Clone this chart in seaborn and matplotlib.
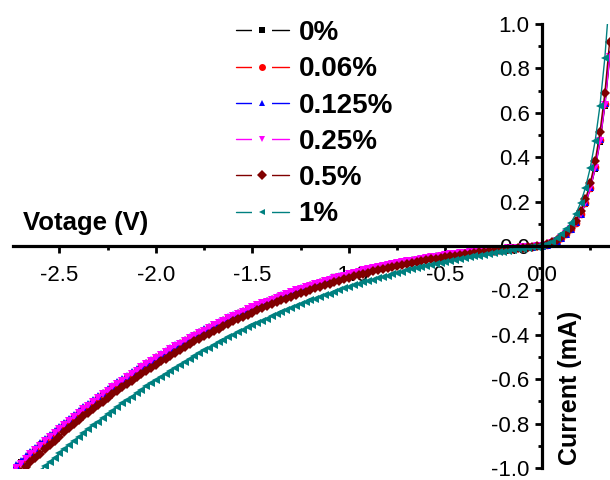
import pandas as pd
import seaborn as sns
import matplotlib.pyplot as plt
from matplotlib.lines import Line2D
from matplotlib.legend_handler import HandlerTuple
from matplotlib.ticker import MultipleLocator, FormatStrFormatter

# Voltage sweep (V)
voltage = [
    -2.75, -2.725, -2.70, -2.675, -2.65, -2.625, -2.60, -2.575, -2.55, -2.525,
    -2.50, -2.475, -2.45, -2.425, -2.40, -2.375, -2.35, -2.325, -2.30, -2.275,
    -2.25, -2.225, -2.20, -2.175, -2.15, -2.125, -2.10, -2.075, -2.05, -2.025,
    -2.00, -1.975, -1.95, -1.925, -1.90, -1.875, -1.85, -1.825, -1.80, -1.775,
    -1.75, -1.725, -1.70, -1.675, -1.65, -1.625, -1.60, -1.575, -1.55, -1.525,
    -1.50, -1.475, -1.45, -1.425, -1.40, -1.375, -1.35, -1.325, -1.30, -1.275,
    -1.25, -1.225, -1.20, -1.175, -1.15, -1.125, -1.10, -1.075, -1.05, -1.025,
    -1.00, -0.975, -0.95, -0.925, -0.90, -0.875, -0.85, -0.825, -0.80, -0.775,
    -0.75, -0.725, -0.70, -0.675, -0.65, -0.625, -0.60, -0.575, -0.55, -0.525,
    -0.50, -0.475, -0.45, -0.425, -0.40, -0.375, -0.35, -0.325, -0.30, -0.275,
    -0.25, -0.225, -0.20, -0.175, -0.15, -0.125, -0.10, -0.075, -0.05, -0.025,
    0.00, 0.025, 0.05, 0.075, 0.10, 0.125, 0.15, 0.175, 0.20, 0.225,
    0.25, 0.275, 0.30, 0.325, 0.35,
]

# Current (mA) for each concentration
cur_0 = [
    -1.015, -0.995, -0.975, -0.954, -0.935, -0.914, -0.895, -0.876, -0.857, -0.838,
    -0.820, -0.802, -0.784, -0.767, -0.748, -0.731, -0.715, -0.698, -0.682, -0.665,
    -0.650, -0.634, -0.619, -0.604, -0.589, -0.573, -0.558, -0.544, -0.530, -0.517,
    -0.503, -0.490, -0.477, -0.464, -0.451, -0.439, -0.426, -0.414, -0.402, -0.390,
    -0.379, -0.368, -0.357, -0.346, -0.336, -0.325, -0.315, -0.305, -0.295, -0.286,
    -0.277, -0.268, -0.259, -0.249, -0.240, -0.232, -0.224, -0.216, -0.208, -0.200,
    -0.193, -0.186, -0.178, -0.172, -0.165, -0.158, -0.152, -0.146, -0.139, -0.134,
    -0.128, -0.121, -0.116, -0.110, -0.105, -0.100, -0.095, -0.091, -0.086, -0.082,
    -0.078, -0.073, -0.069, -0.066, -0.062, -0.058, -0.055, -0.051, -0.048, -0.045,
    -0.041, -0.038, -0.035, -0.033, -0.030, -0.028, -0.025, -0.023, -0.021, -0.019,
    -0.017, -0.015, -0.013, -0.011, -0.009, -0.008, -0.006, -0.005, -0.003, -0.001,
    0.000, 0.006, 0.013, 0.023, 0.036, 0.052, 0.074, 0.102, 0.140, 0.191,
    0.258, 0.348, 0.468, 0.629, 0.845,
]
cur_006 = [
    -1.014, -0.994, -0.974, -0.953, -0.934, -0.913, -0.894, -0.875, -0.856, -0.837,
    -0.819, -0.801, -0.783, -0.766, -0.747, -0.730, -0.714, -0.697, -0.681, -0.664,
    -0.649, -0.633, -0.618, -0.603, -0.588, -0.572, -0.557, -0.543, -0.529, -0.516,
    -0.502, -0.489, -0.476, -0.463, -0.450, -0.438, -0.425, -0.413, -0.401, -0.389,
    -0.378, -0.367, -0.356, -0.345, -0.335, -0.324, -0.314, -0.304, -0.294, -0.285,
    -0.276, -0.267, -0.258, -0.248, -0.239, -0.231, -0.223, -0.215, -0.207, -0.199,
    -0.192, -0.185, -0.177, -0.171, -0.164, -0.157, -0.151, -0.145, -0.138, -0.133,
    -0.127, -0.121, -0.116, -0.110, -0.105, -0.100, -0.095, -0.091, -0.086, -0.081,
    -0.077, -0.072, -0.068, -0.065, -0.061, -0.057, -0.054, -0.050, -0.047, -0.044,
    -0.041, -0.038, -0.035, -0.033, -0.030, -0.028, -0.025, -0.023, -0.021, -0.019,
    -0.017, -0.015, -0.013, -0.011, -0.009, -0.008, -0.006, -0.005, -0.003, -0.001,
    0.000, 0.006, 0.014, 0.024, 0.036, 0.053, 0.076, 0.105, 0.143, 0.195,
    0.263, 0.355, 0.477, 0.641, 0.860,
]
cur_0125 = [
    -1.008, -0.988, -0.968, -0.947, -0.928, -0.908, -0.889, -0.870, -0.851, -0.832,
    -0.814, -0.796, -0.778, -0.761, -0.743, -0.726, -0.710, -0.693, -0.677, -0.660,
    -0.645, -0.629, -0.614, -0.599, -0.584, -0.569, -0.554, -0.540, -0.526, -0.513,
    -0.499, -0.486, -0.473, -0.460, -0.447, -0.435, -0.422, -0.411, -0.399, -0.387,
    -0.376, -0.365, -0.354, -0.343, -0.333, -0.322, -0.312, -0.302, -0.292, -0.283,
    -0.274, -0.265, -0.256, -0.247, -0.238, -0.230, -0.222, -0.214, -0.206, -0.198,
    -0.191, -0.184, -0.176, -0.170, -0.163, -0.156, -0.150, -0.144, -0.137, -0.132,
    -0.126, -0.120, -0.115, -0.109, -0.104, -0.099, -0.094, -0.090, -0.085, -0.081,
    -0.077, -0.072, -0.068, -0.065, -0.061, -0.057, -0.054, -0.050, -0.047, -0.044,
    -0.041, -0.038, -0.035, -0.033, -0.030, -0.028, -0.025, -0.023, -0.021, -0.019,
    -0.017, -0.015, -0.013, -0.011, -0.009, -0.008, -0.006, -0.005, -0.003, -0.001,
    0.000, 0.006, 0.014, 0.024, 0.037, 0.054, 0.077, 0.106, 0.145, 0.197,
    0.266, 0.358, 0.481, 0.646, 0.866,
]
cur_025 = [
    -1.020, -1.000, -0.980, -0.958, -0.939, -0.919, -0.900, -0.880, -0.861, -0.842,
    -0.824, -0.806, -0.787, -0.770, -0.752, -0.735, -0.719, -0.701, -0.685, -0.668,
    -0.653, -0.637, -0.621, -0.606, -0.591, -0.576, -0.561, -0.546, -0.532, -0.519,
    -0.505, -0.492, -0.479, -0.466, -0.452, -0.440, -0.427, -0.416, -0.404, -0.392,
    -0.381, -0.369, -0.358, -0.347, -0.337, -0.326, -0.316, -0.306, -0.296, -0.286,
    -0.277, -0.268, -0.259, -0.250, -0.241, -0.233, -0.225, -0.217, -0.208, -0.200,
    -0.193, -0.186, -0.178, -0.172, -0.165, -0.158, -0.152, -0.146, -0.139, -0.134,
    -0.128, -0.121, -0.116, -0.110, -0.105, -0.100, -0.095, -0.091, -0.086, -0.082,
    -0.078, -0.073, -0.069, -0.066, -0.062, -0.058, -0.055, -0.051, -0.048, -0.045,
    -0.041, -0.038, -0.035, -0.033, -0.030, -0.028, -0.025, -0.023, -0.021, -0.019,
    -0.017, -0.015, -0.013, -0.011, -0.009, -0.008, -0.006, -0.005, -0.003, -0.001,
    0.000, 0.006, 0.014, 0.024, 0.037, 0.053, 0.075, 0.104, 0.142, 0.193,
    0.261, 0.352, 0.473, 0.636, 0.853,
]
cur_05 = [
    -1.058, -1.037, -1.016, -0.995, -0.975, -0.955, -0.935, -0.916, -0.896, -0.877,
    -0.859, -0.840, -0.822, -0.804, -0.786, -0.768, -0.751, -0.734, -0.717, -0.701,
    -0.684, -0.668, -0.652, -0.637, -0.622, -0.606, -0.591, -0.577, -0.562, -0.548,
    -0.534, -0.520, -0.507, -0.494, -0.480, -0.468, -0.455, -0.442, -0.430, -0.418,
    -0.406, -0.395, -0.383, -0.372, -0.361, -0.351, -0.340, -0.330, -0.319, -0.309,
    -0.300, -0.290, -0.281, -0.272, -0.263, -0.254, -0.245, -0.237, -0.228, -0.220,
    -0.212, -0.205, -0.197, -0.190, -0.183, -0.176, -0.169, -0.162, -0.156, -0.149,
    -0.143, -0.137, -0.131, -0.125, -0.120, -0.114, -0.109, -0.104, -0.099, -0.094,
    -0.089, -0.085, -0.080, -0.076, -0.072, -0.068, -0.064, -0.060, -0.057, -0.053,
    -0.050, -0.046, -0.043, -0.040, -0.037, -0.034, -0.031, -0.028, -0.026, -0.023,
    -0.021, -0.019, -0.016, -0.014, -0.012, -0.010, -0.008, -0.006, -0.004, -0.002,
    0.000, 0.007, 0.016, 0.027, 0.041, 0.059, 0.083, 0.114, 0.156, 0.211,
    0.284, 0.382, 0.513, 0.687, 0.921,
]
cur_1 = [
    -1.135, -1.114, -1.093, -1.072, -1.052, -1.032, -1.012, -0.992, -0.973, -0.953,
    -0.934, -0.916, -0.897, -0.879, -0.861, -0.843, -0.826, -0.808, -0.791, -0.774,
    -0.758, -0.741, -0.725, -0.709, -0.693, -0.678, -0.662, -0.647, -0.632, -0.618,
    -0.603, -0.589, -0.575, -0.561, -0.548, -0.534, -0.521, -0.508, -0.495, -0.483,
    -0.470, -0.458, -0.446, -0.434, -0.423, -0.411, -0.400, -0.389, -0.378, -0.367,
    -0.357, -0.347, -0.337, -0.327, -0.317, -0.307, -0.298, -0.289, -0.280, -0.271,
    -0.262, -0.254, -0.245, -0.237, -0.229, -0.221, -0.214, -0.206, -0.199, -0.191,
    -0.184, -0.177, -0.171, -0.164, -0.157, -0.151, -0.145, -0.139, -0.133, -0.127,
    -0.121, -0.116, -0.110, -0.105, -0.100, -0.095, -0.090, -0.085, -0.080, -0.076,
    -0.071, -0.067, -0.063, -0.059, -0.055, -0.051, -0.047, -0.043, -0.039, -0.036,
    -0.032, -0.029, -0.025, -0.022, -0.019, -0.015, -0.012, -0.009, -0.006, -0.003,
    0.000, 0.009, 0.020, 0.035, 0.052, 0.075, 0.105, 0.144, 0.195, 0.263,
    0.353, 0.473, 0.632, 0.845, 1.130,
]

labels = ["0%", "0.06%", "0.125%", "0.25%", "0.5%", "1%"]
colors = ["black", "red", "blue", "magenta", "#800000", "#008080"]
markers = ["s", "o", "^", "v", "D", "<"]
currents = [cur_0, cur_006, cur_0125, cur_025, cur_05, cur_1]

frames = []
for lab, cur in zip(labels, currents):
    frames.append(pd.DataFrame({"Voltage": voltage, "Current": cur, "Conc": lab}))
df = pd.concat(frames, ignore_index=True)

sns.set_style("ticks", {"axes.edgecolor": "black", "xtick.color": "black",
                        "ytick.color": "black", "text.color": "black",
                        "axes.labelcolor": "black"})
plt.rcParams["font.family"] = ["Liberation Sans", "DejaVu Sans"]
plt.rcParams["axes.unicode_minus"] = False

fig = plt.figure(figsize=(6.1, 4.8), dpi=100)
ax = fig.add_axes([13 / 610, 12 / 480, 597 / 610, 444 / 480])

sns.lineplot(data=df, x="Voltage", y="Current", hue="Conc", style="Conc",
             hue_order=labels, style_order=labels,
             palette=dict(zip(labels, colors)), markers=dict(zip(labels, markers)),
             dashes=False, estimator=None, sort=False, legend=False,
             linewidth=1, markersize=5.5, markeredgewidth=0, ax=ax)
ax.lines[0].set_markersize(4)  # black squares sit underneath the others

ax.set_xlim(-2.74, 0.352)
ax.set_ylim(-1.0, 1.0)

# axes cross at the origin
ax.spines["top"].set_visible(False)
ax.spines["right"].set_visible(False)
ax.spines["left"].set_position(("data", 0))
ax.spines["bottom"].set_position(("data", 0))
ax.spines["left"].set_linewidth(2.3)
ax.spines["bottom"].set_linewidth(2.3)

ax.xaxis.set_major_locator(MultipleLocator(0.5))
ax.xaxis.set_minor_locator(MultipleLocator(0.25))
ax.yaxis.set_major_locator(MultipleLocator(0.2))
ax.yaxis.set_minor_locator(MultipleLocator(0.1))
ax.xaxis.set_major_formatter(FormatStrFormatter("%.1f"))
ax.yaxis.set_major_formatter(FormatStrFormatter("%.1f"))
ax.tick_params(which="major", direction="out", length=5, width=2, labelsize=16)
ax.tick_params(axis="x", which="major", pad=9)
ax.tick_params(axis="y", which="major", pad=4)
ax.tick_params(which="minor", direction="out", length=3, width=2)

ax.set_xlabel("Votage (V)", fontsize=18.5, fontweight="bold")
ax.xaxis.set_label_coords(0.122, 0.551)
ax.xaxis.label.set_va("center")
ax.set_ylabel("Current (mA)", fontsize=18, fontweight="bold")
ax.yaxis.set_label_coords(0.933, 0.18)
ax.yaxis.label.set_va("center")

# legend: line broken around the symbol
handles = []
for c, m in zip(colors, markers):
    base = Line2D([], [], color=c, lw=1, marker="s", markersize=14,
                  markerfacecolor="white", markeredgewidth=0)
    sym = Line2D([], [], linestyle="none", marker=m, markersize=5,
                 color=c, markeredgewidth=0)
    handles.append((base, sym))
ax.legend(handles, labels, handler_map={tuple: HandlerTuple(ndivide=1, pad=0)},
          loc="upper left", bbox_to_anchor=(236 / 610, 1 - 20 / 480),
          bbox_transform=fig.transFigure, frameon=False, borderpad=0,
          borderaxespad=0, handlelength=1.9, handletextpad=0.35,
          labelspacing=0.37, prop={"weight": "bold", "size": 20})

fig.savefig("out.png", dpi=100)
